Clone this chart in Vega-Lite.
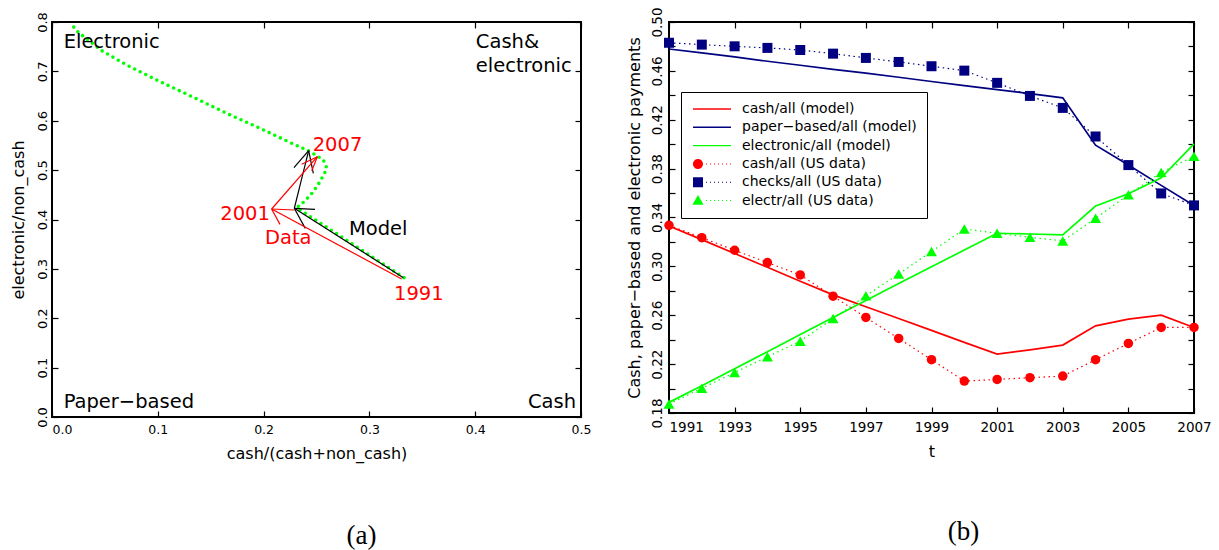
{
  "$schema": "https://vega.github.io/schema/vega-lite/v6.json",
  "background": "white",
  "padding": {"left": 9, "right": 5, "top": 5, "bottom": 5},
  "spacing": 33,
  "config": {
    "font": "DejaVu Sans",
    "view": {"stroke": "black", "strokeWidth": 2},
    "axis": {"grid": false, "domain": false, "tickColor": "black", "tickWidth": 1.2, "labelColor": "black", "titleColor": "black", "titleFontWeight": "normal", "labelFont": "DejaVu Sans", "titleFont": "DejaVu Sans"},
    "title": {"color": "black"}
  },
  "hconcat": [
    {
      "width": 529,
      "height": 395,
      "title": {"text": "(a)", "orient": "bottom", "font": "Liberation Serif", "fontSize": 27, "fontWeight": "normal", "dx": 45, "offset": 61, "anchor": "middle"},
      "layer": [
        {
          "data": {"values": [
            {"i": 1, "x": 0.3327, "y": 0.2822},
            {"i": 2, "x": 0.2313, "y": 0.4239},
            {"i": 3, "x": 0.2391, "y": 0.4375},
            {"i": 4, "x": 0.2470, "y": 0.4563},
            {"i": 5, "x": 0.2533, "y": 0.4766},
            {"i": 6, "x": 0.2583, "y": 0.4968},
            {"i": 7, "x": 0.2596, "y": 0.5049},
            {"i": 8, "x": 0.2565, "y": 0.5205},
            {"i": 9, "x": 0.2508, "y": 0.5286},
            {"i": 10, "x": 0.2423, "y": 0.5394},
            {"i": 11, "x": 0.2281, "y": 0.5529},
            {"i": 12, "x": 0.1966, "y": 0.5847},
            {"i": 13, "x": 0.1651, "y": 0.6151},
            {"i": 14, "x": 0.1336, "y": 0.6475},
            {"i": 15, "x": 0.0989, "y": 0.6825},
            {"i": 16, "x": 0.0706, "y": 0.7129},
            {"i": 17, "x": 0.0470, "y": 0.7419},
            {"i": 18, "x": 0.0249, "y": 0.7791},
            {"i": 19, "x": 0.0196, "y": 0.7919}
          ]},
          "mark": {"type": "line", "color": "#00ff00", "strokeWidth": 3.6, "strokeDash": [0, 6.2], "strokeCap": "round"},
          "encoding": {
            "x": {"field": "x", "type": "quantitative", "scale": {"domain": [0, 0.5], "nice": false},
              "axis": {"orient": "bottom", "values": [0, 0.1, 0.2, 0.3, 0.4, 0.5], "format": ".1f", "title": "cash/(cash+non_cash)", "titleFontSize": 16, "labelFontSize": 12.5, "tickSize": -6, "labelPadding": 12, "titlePadding": 10,
                "labelAlign": {"condition": {"test": "datum.value == 0", "value": "left"}, "value": "center"}}},
            "y": {"field": "y", "type": "quantitative", "scale": {"domain": [0, 0.8], "nice": false},
              "axis": {"orient": "left", "values": [0, 0.1, 0.2, 0.3, 0.4, 0.5, 0.6, 0.7, 0.8], "format": ".1f", "title": "electronic/non_cash", "titleFontSize": 16, "labelFontSize": 13, "labelAngle": 270, "tickSize": -6, "labelPadding": 9, "titlePadding": 10}},
            "order": {"field": "i", "type": "quantitative"}
          }
        },
        {
          "data": {"values": [
            {"x": 0.3321, "y": 0.2822, "x2": 0.2290, "y2": 0.4227, "c": "black"},
            {"x": 0.2290, "y": 0.4227, "x2": 0.2486, "y2": 0.4206, "c": "black"},
            {"x": 0.2290, "y": 0.4227, "x2": 0.2394, "y2": 0.3821, "c": "black"},
            {"x": 0.2290, "y": 0.4227, "x2": 0.2426, "y2": 0.5394, "c": "black"},
            {"x": 0.2426, "y": 0.5394, "x2": 0.2287, "y2": 0.5049, "c": "black"},
            {"x": 0.2426, "y": 0.5394, "x2": 0.2470, "y2": 0.4935, "c": "black"},
            {"x": 0.3305, "y": 0.2795, "x2": 0.2076, "y2": 0.4213, "c": "red"},
            {"x": 0.2076, "y": 0.4213, "x2": 0.2290, "y2": 0.4192, "c": "red"},
            {"x": 0.2076, "y": 0.4213, "x2": 0.2155, "y2": 0.3902, "c": "red"},
            {"x": 0.2076, "y": 0.4213, "x2": 0.2508, "y2": 0.5272, "c": "red"},
            {"x": 0.2508, "y": 0.5272, "x2": 0.2360, "y2": 0.5120, "c": "red"},
            {"x": 0.2508, "y": 0.5272, "x2": 0.2455, "y2": 0.4985, "c": "red"}
          ]},
          "mark": {"type": "rule", "strokeWidth": 1.2},
          "encoding": {
            "x": {"field": "x", "type": "quantitative", "axis": {"orient": "top", "values": [0, 0.1, 0.2, 0.3, 0.4, 0.5], "labels": false, "title": null, "tickSize": -6}},
            "y": {"field": "y", "type": "quantitative", "axis": {"orient": "right", "values": [0, 0.1, 0.2, 0.3, 0.4, 0.5, 0.6, 0.7, 0.8], "labels": false, "title": null, "tickSize": -6}},
            "x2": {"field": "x2"},
            "y2": {"field": "y2"},
            "color": {"field": "c", "type": "nominal", "scale": null}
          }
        },
        {
          "data": {"values": [
            {"x": 0.011, "y": 0.7467, "t": "Electronic", "c": "black"},
            {"x": 0.4006, "y": 0.7480, "t": "Cash&", "c": "black"},
            {"x": 0.4006, "y": 0.6994, "t": "electronic", "c": "black"},
            {"x": 0.011, "y": 0.0189, "t": "Paper−based", "c": "black"},
            {"x": 0.2464, "y": 0.5387, "t": "2007", "c": "red"},
            {"x": 0.2013, "y": 0.3497, "t": "Data", "c": "red"},
            {"x": 0.2807, "y": 0.3686, "t": "Model", "c": "black"},
            {"x": 0.3233, "y": 0.2370, "t": "1991", "c": "red"}
          ]},
          "mark": {"type": "text", "align": "left", "baseline": "alphabetic", "fontSize": 19.5},
          "encoding": {
            "x": {"field": "x", "type": "quantitative", "axis": null},
            "y": {"field": "y", "type": "quantitative", "axis": null},
            "text": {"field": "t"},
            "color": {"field": "c", "type": "nominal", "scale": null}
          }
        },
        {
          "data": {"values": [
            {"x": 0.2060, "y": 0.3990, "t": "2001", "c": "red"},
            {"x": 0.4953, "y": 0.0189, "t": "Cash", "c": "black"}
          ]},
          "mark": {"type": "text", "align": "right", "baseline": "alphabetic", "fontSize": 19.5},
          "encoding": {
            "x": {"field": "x", "type": "quantitative", "axis": null},
            "y": {"field": "y", "type": "quantitative", "axis": null},
            "text": {"field": "t"},
            "color": {"field": "c", "type": "nominal", "scale": null}
          }
        }
      ],
      "resolve": {"axis": {"x": "independent", "y": "independent"}}
    },
    {
      "width": 525,
      "height": 391,
      "title": {"text": "(b)", "orient": "bottom", "font": "Liberation Serif", "fontSize": 27, "fontWeight": "normal", "dx": 32, "offset": 59, "anchor": "middle"},
      "layer": [
        {
          "data": {"values": []},
          "mark": {"type": "point", "filled": true, "opacity": 1},
          "encoding": {
            "color": {"field": "s", "type": "nominal",
              "scale": {"domain": ["cash/all (model)", "paper−based/all (model)", "electronic/all (model)", "cash/all (US data)", "checks/all (US data)", "electr/all (US data)"],
                "range": ["#ff0000", "#000080", "#00ff00", "#ff0000", "#000080", "#00ff00"]},
              "legend": {"title": null, "orient": "none", "legendX": 629, "legendY": 70, "symbolSize": 196, "symbolOffset": 3, "labelFontSize": 14, "labelFont": "DejaVu Sans", "labelColor": "black", "labelOffset": 34, "labelLimit": 180, "padding": 10, "rowPadding": 4.3, "strokeColor": "black", "fillColor": "white", "symbolStrokeWidth": 0, "symbolOpacity": 1}},
            "shape": {"field": "s", "type": "nominal",
              "scale": {"domain": ["cash/all (model)", "paper−based/all (model)", "electronic/all (model)", "cash/all (US data)", "checks/all (US data)", "electr/all (US data)"],
                "range": [
                  "M-1.143,-0.1H4.286V0.1H-1.143Z",
                  "M-1.143,-0.1H4.286V0.1H-1.143Z",
                  "M-1.143,-0.1H4.286V0.1H-1.143Z",
                  "M-1.143,0A0.714,0.714,0,1,0,0.286,0A0.714,0.714,0,1,0,-1.143,0ZM0.714,-0.07h0.143v0.143h-0.143ZM1.286,-0.07h0.143v0.143h-0.143ZM1.857,-0.07h0.143v0.143h-0.143ZM2.429,-0.07h0.143v0.143h-0.143ZM3.0,-0.07h0.143v0.143h-0.143ZM3.571,-0.07h0.143v0.143h-0.143ZM4.143,-0.07h0.143v0.143h-0.143Z",
                  "M-1.143,-0.714H0.286V0.714H-1.143ZM0.714,-0.07h0.143v0.143h-0.143ZM1.286,-0.07h0.143v0.143h-0.143ZM1.857,-0.07h0.143v0.143h-0.143ZM2.429,-0.07h0.143v0.143h-0.143ZM3.0,-0.07h0.143v0.143h-0.143ZM3.571,-0.07h0.143v0.143h-0.143ZM4.143,-0.07h0.143v0.143h-0.143Z",
                  "M-0.43,-0.8L0.37,0.6L-1.23,0.6ZM0.714,-0.07h0.143v0.143h-0.143ZM1.286,-0.07h0.143v0.143h-0.143ZM1.857,-0.07h0.143v0.143h-0.143ZM2.429,-0.07h0.143v0.143h-0.143ZM3.0,-0.07h0.143v0.143h-0.143ZM3.571,-0.07h0.143v0.143h-0.143ZM4.143,-0.07h0.143v0.143h-0.143Z"
                ]},
              "legend": {"title": null, "orient": "none", "legendX": 629, "legendY": 70, "symbolSize": 196, "symbolOffset": 3, "labelFontSize": 14, "labelFont": "DejaVu Sans", "labelColor": "black", "labelOffset": 34, "labelLimit": 180, "padding": 10, "rowPadding": 4.3, "strokeColor": "black", "fillColor": "white", "symbolStrokeWidth": 0, "symbolOpacity": 1}}
          }
        },
        {
          "data": {"values": [
            {"t": 1991, "v": 0.3331, "s": "cash/all (model)"},
            {"t": 1992, "v": 0.3219, "s": "cash/all (model)"},
            {"t": 1993, "v": 0.3105, "s": "cash/all (model)"},
            {"t": 1994, "v": 0.2993, "s": "cash/all (model)"},
            {"t": 1995, "v": 0.2879, "s": "cash/all (model)"},
            {"t": 1996, "v": 0.2767, "s": "cash/all (model)"},
            {"t": 1997, "v": 0.2669, "s": "cash/all (model)"},
            {"t": 1998, "v": 0.2574, "s": "cash/all (model)"},
            {"t": 1999, "v": 0.2476, "s": "cash/all (model)"},
            {"t": 2000, "v": 0.2378, "s": "cash/all (model)"},
            {"t": 2001, "v": 0.2282, "s": "cash/all (model)"},
            {"t": 2002, "v": 0.2317, "s": "cash/all (model)"},
            {"t": 2003, "v": 0.2356, "s": "cash/all (model)"},
            {"t": 2004, "v": 0.2513, "s": "cash/all (model)"},
            {"t": 2005, "v": 0.2568, "s": "cash/all (model)"},
            {"t": 2006, "v": 0.2601, "s": "cash/all (model)"},
            {"t": 2007, "v": 0.2500, "s": "cash/all (model)"},
            {"t": 1991, "v": 0.4779, "s": "paper−based/all (model)"},
            {"t": 1992, "v": 0.4747, "s": "paper−based/all (model)"},
            {"t": 1993, "v": 0.4714, "s": "paper−based/all (model)"},
            {"t": 1994, "v": 0.4679, "s": "paper−based/all (model)"},
            {"t": 1995, "v": 0.4646, "s": "paper−based/all (model)"},
            {"t": 1996, "v": 0.4613, "s": "paper−based/all (model)"},
            {"t": 1997, "v": 0.4581, "s": "paper−based/all (model)"},
            {"t": 1998, "v": 0.4548, "s": "paper−based/all (model)"},
            {"t": 1999, "v": 0.4513, "s": "paper−based/all (model)"},
            {"t": 2000, "v": 0.4480, "s": "paper−based/all (model)"},
            {"t": 2001, "v": 0.4447, "s": "paper−based/all (model)"},
            {"t": 2002, "v": 0.4414, "s": "paper−based/all (model)"},
            {"t": 2003, "v": 0.4379, "s": "paper−based/all (model)"},
            {"t": 2004, "v": 0.3992, "s": "paper−based/all (model)"},
            {"t": 2005, "v": 0.3829, "s": "paper−based/all (model)"},
            {"t": 2006, "v": 0.3663, "s": "paper−based/all (model)"},
            {"t": 2007, "v": 0.3499, "s": "paper−based/all (model)"},
            {"t": 1991, "v": 0.1887, "s": "electronic/all (model)"},
            {"t": 1992, "v": 0.2023, "s": "electronic/all (model)"},
            {"t": 1993, "v": 0.2162, "s": "electronic/all (model)"},
            {"t": 1994, "v": 0.2301, "s": "electronic/all (model)"},
            {"t": 1995, "v": 0.2443, "s": "electronic/all (model)"},
            {"t": 1996, "v": 0.2582, "s": "electronic/all (model)"},
            {"t": 1997, "v": 0.2720, "s": "electronic/all (model)"},
            {"t": 1998, "v": 0.2859, "s": "electronic/all (model)"},
            {"t": 1999, "v": 0.2996, "s": "electronic/all (model)"},
            {"t": 2000, "v": 0.3134, "s": "electronic/all (model)"},
            {"t": 2001, "v": 0.3271, "s": "electronic/all (model)"},
            {"t": 2002, "v": 0.3265, "s": "electronic/all (model)"},
            {"t": 2003, "v": 0.3257, "s": "electronic/all (model)"},
            {"t": 2004, "v": 0.3494, "s": "electronic/all (model)"},
            {"t": 2005, "v": 0.3595, "s": "electronic/all (model)"},
            {"t": 2006, "v": 0.3725, "s": "electronic/all (model)"},
            {"t": 2007, "v": 0.4003, "s": "electronic/all (model)"}
          ]},
          "mark": {"type": "line", "strokeWidth": 1.7},
          "encoding": {
            "x": {"field": "t", "type": "quantitative", "scale": {"domain": [1991, 2007], "nice": false, "zero": false},
              "axis": {"orient": "bottom", "values": [1991, 1993, 1995, 1997, 1999, 2001, 2003, 2005, 2007], "format": "d", "title": "t", "titleFontSize": 16, "labelFontSize": 13.5, "tickSize": -6, "labelPadding": 13, "titlePadding": 10,
                "labelAlign": {"condition": {"test": "datum.value == 1991", "value": "left"}, "value": "center"}}},
            "y": {"field": "v", "type": "quantitative", "scale": {"domain": [0.18, 0.5], "nice": false, "zero": false},
              "axis": {"orient": "left", "values": [0.18, 0.2, 0.22, 0.24, 0.26, 0.28, 0.3, 0.32, 0.34, 0.36, 0.38, 0.4, 0.42, 0.44, 0.46, 0.48, 0.5],
                "labelExpr": "(round(datum.value*100) - 18) % 4 == 0 ? format(datum.value, '.2f') : ''",
                "title": "Cash, paper−based and electronic payments", "titleFontSize": 16, "labelFontSize": 13.5, "labelAngle": 270, "tickSize": -6, "labelPadding": 11, "titlePadding": 8}},
            "color": {"field": "s", "type": "nominal"}
          }
        },
        {
          "data": {"name": "usdata", "values": [
            {"t": 1991, "v": 0.3336, "s": "cash/all (US data)"},
            {"t": 1992, "v": 0.3235, "s": "cash/all (US data)"},
            {"t": 1993, "v": 0.3132, "s": "cash/all (US data)"},
            {"t": 1994, "v": 0.3031, "s": "cash/all (US data)"},
            {"t": 1995, "v": 0.2930, "s": "cash/all (US data)"},
            {"t": 1996, "v": 0.2756, "s": "cash/all (US data)"},
            {"t": 1997, "v": 0.2582, "s": "cash/all (US data)"},
            {"t": 1998, "v": 0.2410, "s": "cash/all (US data)"},
            {"t": 1999, "v": 0.2236, "s": "cash/all (US data)"},
            {"t": 2000, "v": 0.2061, "s": "cash/all (US data)"},
            {"t": 2001, "v": 0.2075, "s": "cash/all (US data)"},
            {"t": 2002, "v": 0.2089, "s": "cash/all (US data)"},
            {"t": 2003, "v": 0.2102, "s": "cash/all (US data)"},
            {"t": 2004, "v": 0.2236, "s": "cash/all (US data)"},
            {"t": 2005, "v": 0.2369, "s": "cash/all (US data)"},
            {"t": 2006, "v": 0.2500, "s": "cash/all (US data)"},
            {"t": 2007, "v": 0.2500, "s": "cash/all (US data)"},
            {"t": 1991, "v": 0.4830, "s": "checks/all (US data)"},
            {"t": 1992, "v": 0.4815, "s": "checks/all (US data)"},
            {"t": 1993, "v": 0.4801, "s": "checks/all (US data)"},
            {"t": 1994, "v": 0.4788, "s": "checks/all (US data)"},
            {"t": 1995, "v": 0.4771, "s": "checks/all (US data)"},
            {"t": 1996, "v": 0.4741, "s": "checks/all (US data)"},
            {"t": 1997, "v": 0.4706, "s": "checks/all (US data)"},
            {"t": 1998, "v": 0.4673, "s": "checks/all (US data)"},
            {"t": 1999, "v": 0.4638, "s": "checks/all (US data)"},
            {"t": 2000, "v": 0.4602, "s": "checks/all (US data)"},
            {"t": 2001, "v": 0.4502, "s": "checks/all (US data)"},
            {"t": 2002, "v": 0.4395, "s": "checks/all (US data)"},
            {"t": 2003, "v": 0.4297, "s": "checks/all (US data)"},
            {"t": 2004, "v": 0.4063, "s": "checks/all (US data)"},
            {"t": 2005, "v": 0.3829, "s": "checks/all (US data)"},
            {"t": 2006, "v": 0.3597, "s": "checks/all (US data)"},
            {"t": 2007, "v": 0.3499, "s": "checks/all (US data)"},
            {"t": 1991, "v": 0.1874, "s": "electr/all (US data)"},
            {"t": 1992, "v": 0.2002, "s": "electr/all (US data)"},
            {"t": 1993, "v": 0.2132, "s": "electr/all (US data)"},
            {"t": 1994, "v": 0.2260, "s": "electr/all (US data)"},
            {"t": 1995, "v": 0.2388, "s": "electr/all (US data)"},
            {"t": 1996, "v": 0.2573, "s": "electr/all (US data)"},
            {"t": 1997, "v": 0.2759, "s": "electr/all (US data)"},
            {"t": 1998, "v": 0.2938, "s": "electr/all (US data)"},
            {"t": 1999, "v": 0.3121, "s": "electr/all (US data)"},
            {"t": 2000, "v": 0.3306, "s": "electr/all (US data)"},
            {"t": 2001, "v": 0.3271, "s": "electr/all (US data)"},
            {"t": 2002, "v": 0.3238, "s": "electr/all (US data)"},
            {"t": 2003, "v": 0.3208, "s": "electr/all (US data)"},
            {"t": 2004, "v": 0.3393, "s": "electr/all (US data)"},
            {"t": 2005, "v": 0.3587, "s": "electr/all (US data)"},
            {"t": 2006, "v": 0.3769, "s": "electr/all (US data)"},
            {"t": 2007, "v": 0.3902, "s": "electr/all (US data)"}
          ]},
          "mark": {"type": "line", "strokeWidth": 1.2, "strokeDash": [1.5, 3.5]},
          "encoding": {
            "x": {"field": "t", "type": "quantitative", "axis": {"orient": "top", "values": [1991, 1993, 1995, 1997, 1999, 2001, 2003, 2005, 2007], "labels": false, "title": null, "tickSize": -6}},
            "y": {"field": "v", "type": "quantitative", "axis": {"orient": "right", "values": [0.18, 0.2, 0.22, 0.24, 0.26, 0.28, 0.3, 0.32, 0.34, 0.36, 0.38, 0.4, 0.42, 0.44, 0.46, 0.48, 0.5], "labels": false, "title": null, "tickSize": -6}},
            "color": {"field": "s", "type": "nominal"}
          }
        },
        {
          "data": {"name": "usdata"},
          "transform": [{"filter": "datum.s == 'cash/all (US data)'"}],
          "mark": {"type": "point", "shape": "circle", "filled": true, "opacity": 1, "size": 90},
          "encoding": {
            "x": {"field": "t", "type": "quantitative", "axis": null},
            "y": {"field": "v", "type": "quantitative", "axis": null},
            "color": {"field": "s", "type": "nominal"}
          }
        },
        {
          "data": {"name": "usdata"},
          "transform": [{"filter": "datum.s == 'checks/all (US data)'"}],
          "mark": {"type": "point", "shape": "square", "filled": true, "opacity": 1, "size": 100},
          "encoding": {
            "x": {"field": "t", "type": "quantitative", "axis": null},
            "y": {"field": "v", "type": "quantitative", "axis": null},
            "color": {"field": "s", "type": "nominal"}
          }
        },
        {
          "data": {"name": "usdata"},
          "transform": [{"filter": "datum.s == 'electr/all (US data)'"}],
          "mark": {"type": "point", "shape": "triangle-up", "filled": true, "opacity": 1, "size": 120},
          "encoding": {
            "x": {"field": "t", "type": "quantitative", "axis": null},
            "y": {"field": "v", "type": "quantitative", "axis": null},
            "color": {"field": "s", "type": "nominal"}
          }
        }
      ],
      "resolve": {"axis": {"x": "independent", "y": "independent"}}
    }
  ]
}
